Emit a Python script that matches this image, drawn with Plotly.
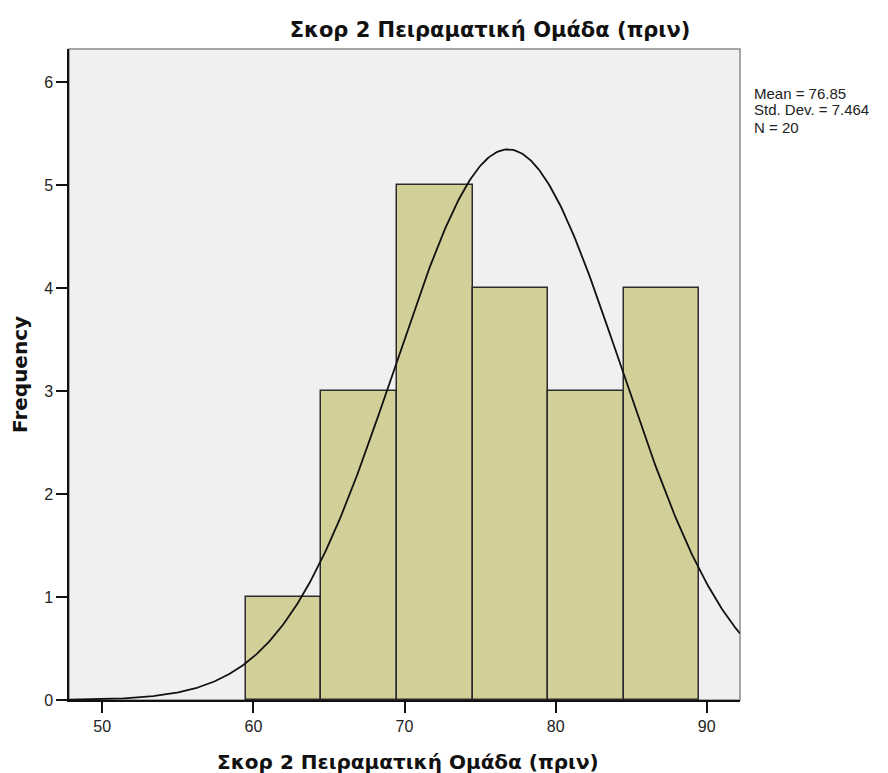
import numpy as np
import plotly.graph_objects as go

# Histogram bins (score ranges) and counts
bin_starts = [59.5, 64.5, 69.5, 74.5, 79.5, 84.5]
bin_width = 5
counts = [1, 3, 5, 4, 3, 4]

# Summary statistics shown beside the chart
mean = 76.85
std_dev = 7.464
n = 20

x_ticks = [50, 60, 70, 80, 90]
y_ticks = [0, 1, 2, 3, 4, 5, 6]
x_range = [47.8, 92.2]
y_range = [0, 6.32]

title_text = "Σκορ 2 Πειραματική Ομάδα (πριν)"

centers = [s + bin_width / 2 for s in bin_starts]

# Normal curve scaled to the histogram (N * bin width * pdf)
xs = np.linspace(x_range[0], x_range[1], 400)
ys = n * bin_width * np.exp(-0.5 * ((xs - mean) / std_dev) ** 2) / (std_dev * np.sqrt(2 * np.pi))

fig = go.Figure()
fig.add_trace(go.Bar(
    x=centers, y=counts, width=bin_width,
    marker=dict(color="#d3cf98", line=dict(color="#2b2b2b", width=1.5)),
    hoverinfo="skip",
))
fig.add_trace(go.Scatter(
    x=xs, y=ys, mode="lines",
    line=dict(color="#111111", width=1.8),
    hoverinfo="skip",
))

L, R, T, B = 69, 148, 49, 73
W, H = 888, 773
pw, ph = W - L - R, H - T - B

def px_x(p):
    return (p - L) / pw

def px_y(p):
    return (H - B - p) / ph

tick_font = dict(family="Liberation Sans, Arial, sans-serif", size=16, color="#222222")
bold = dict(family="DejaVu Sans, Arial, sans-serif", color="#111111", weight="bold")

fig.update_layout(
    width=W, height=H,
    margin=dict(l=L, r=R, t=T, b=B),
    paper_bgcolor="white",
    plot_bgcolor="#f0f0f0",
    showlegend=False,
    bargap=0,
    title=dict(text=title_text, x=490 / W, xanchor="center", y=1 - 30 / H, yanchor="middle",
               font=dict(bold, size=21)),
)
fig.update_xaxes(
    range=x_range, tickvals=x_ticks, ticks="outside", ticklen=11, tickwidth=1.5,
    tickcolor="#111111", showline=True, linecolor="#111111", linewidth=1.5,
    showgrid=False, zeroline=False, tickfont=tick_font,
)
fig.update_yaxes(
    range=y_range, tickvals=y_ticks, ticks="outside", ticklen=11, tickwidth=1.5,
    tickcolor="#111111", showline=True, linecolor="#111111", linewidth=1.5,
    showgrid=False, zeroline=False, tickfont=tick_font,
)

# Grey frame around the plotting area
fig.add_shape(type="rect", xref="paper", yref="paper", x0=0, y0=0, x1=1, y1=1,
              line=dict(color="#8a8a8a", width=1.5), layer="below")

annotations = [
    dict(text=title_text, x=px_x(408), y=px_y(762), font=dict(bold, size=20)),
    dict(text="Frequency", x=px_x(20), y=px_y(375), textangle=-90, font=dict(bold, size=20)),
]
stats_lines = [f"Mean = {mean:.2f}", f"Std. Dev. = {std_dev:.3f}", f"N = {n}"]
for i, line in enumerate(stats_lines):
    annotations.append(dict(
        text=line, x=px_x(752), y=px_y(93 + 17 * i), xanchor="left",
        font=dict(family="Liberation Sans, Arial, sans-serif", size=15, color="#222222"),
    ))
for a in annotations:
    a.setdefault("xanchor", "center")
    a.update(xref="paper", yref="paper", yanchor="middle", showarrow=False)
fig.update_layout(annotations=annotations)

fig.write_html("out.html")
